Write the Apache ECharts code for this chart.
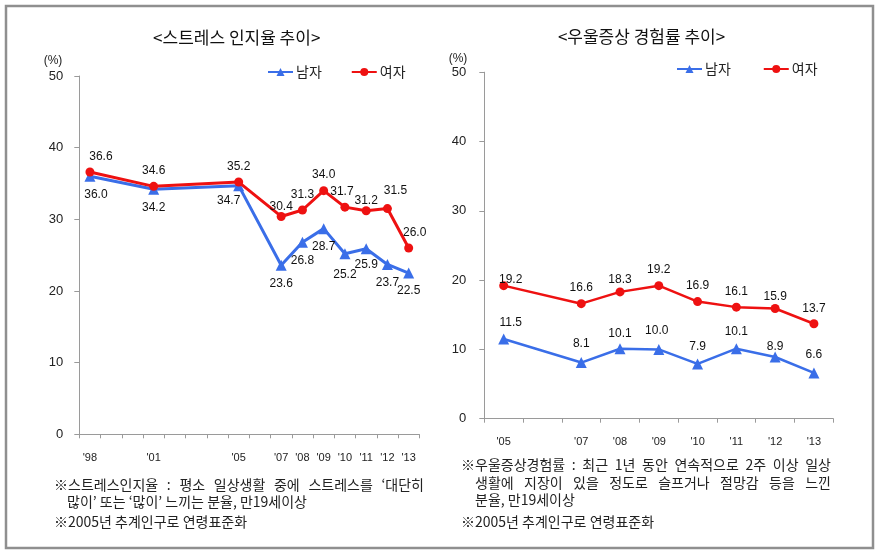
<!DOCTYPE html>
<html>
<head>
<meta charset="utf-8">
<script src="https://cdn.jsdelivr.net/npm/echarts@6/dist/echarts.min.js"></script>
<style>
html,body{margin:0;padding:0;background:#fff;}
#c{width:882px;height:557px;}
</style>
</head>
<body>
<div id="c"></div>
<script>
// ---- data ----
const stressYears = [1998, 2001, 2005, 2007, 2008, 2009, 2010, 2011, 2012, 2013];
const stressMale = [36.0, 34.2, 34.7, 23.6, 26.8, 28.7, 25.2, 25.9, 23.7, 22.5];
const stressFemale = [36.6, 34.6, 35.2, 30.4, 31.3, 34.0, 31.7, 31.2, 31.5, 26.0];
const depYears = [2005, 2007, 2008, 2009, 2010, 2011, 2012, 2013];
const depMale = [11.5, 8.1, 10.1, 10.0, 7.9, 10.1, 8.9, 6.6];
const depFemale = [19.2, 16.6, 18.3, 19.2, 16.9, 16.1, 15.9, 13.7];
const seriesNames = ['남자', '여자'];
const titles = ['<스트레스 인지율 추이>', '<우울증상 경험률 추이>'];
const yMin = 0, yMax = 50, yStep = 10;
const notesLeft = [
  '※스트레스인지율 : 평소 일상생활 중에 스트레스를 ‘대단히',
  '많이’ 또는 ‘많이’ 느끼는 분율, 만19세이상',
  '※2005년 추계인구로 연령표준화'
];
const notesRight = [
  '※우울증상경험률 : 최근 1년 동안 연속적으로 2주 이상 일상',
  '생활에 지장이 있을 정도로 슬프거나 절망감 등을 느낀',
  '분율, 만19세이상',
  '※2005년 추계인구로 연령표준화'
];

// ---- label placement (style, not data) ----
const offStressMale = [[6,0],[0,0],[-10,-3],[0,0],[0,0],[0,0],[0,2],[0,-3],[0,0],[0,-1]];
const offStressFemale = [[11,0],[0,0],[0,0],[0,6],[0,0],[0,0],[-3,0],[0,5],[8,-2],[6,0]];
const offDepMale = [[7,0],[0,-2],[0,1],[-2,-2],[0,-1],[0,-1],[0,6],[0,-2]];
const offDepFemale = [[7,10],[0,0],[0,3],[0,0],[0,0],[0,0],[0,4],[0,0]];

const BLUE = '#3a6ee8', RED = '#ee1111';
const FONT = 'Liberation Sans, Arial, sans-serif';
const KFONT = '"Noto Sans CJK KR", sans-serif';
const NOTE_FONT = '14px ' + KFONT;

function range(a, b){ const r=[]; for(let i=a;i<=b;i++) r.push(String(i)); return r; }
const stressCats = range(stressYears[0], stressYears[stressYears.length-1]);
const depCats = range(depYears[0], depYears[depYears.length-1]);

function mk(years, vals, offs){
  return years.map((y,i)=>({value:[String(y), vals[i]], label:{offset:offs[i]}}));
}
function yrFmt(set){ return v => set.has(+v) ? "'" + String(v).slice(2) : ''; }

const labelStyle = {show:true, fontSize:12, color:'#111', fontFamily:FONT, formatter: p => p.value[1].toFixed(1)};

function xAxis(idx, cats, years){
  return {
    type:'category', gridIndex:idx, data:cats, boundaryGap:true,
    axisLine:{lineStyle:{color:'#9a9a9a', width:1}},
    axisTick:{show:true, length:4, interval:0, lineStyle:{color:'#9a9a9a'}},
    axisLabel:{interval:0, formatter:yrFmt(new Set(years)), fontSize:11, color:'#222', margin:18, fontFamily:'Liberation Sans Narrow, Liberation Sans, sans-serif'},
    splitLine:{show:false}
  };
}
function yAxis(idx, margin){
  return {
    type:'value', gridIndex:idx, min:yMin, max:yMax, interval:yStep,
    axisLine:{show:true, lineStyle:{color:'#9a9a9a', width:1}},
    axisTick:{show:true, length:5, lineStyle:{color:'#9a9a9a'}},
    axisLabel:{fontSize:13, color:'#222', margin:margin, fontFamily:FONT},
    splitLine:{show:false}
  };
}

// footnote text: optionally justified to a given width
const mctx = document.createElement('canvas').getContext('2d');
function noteLine(text, x, y, width){
  mctx.font = NOTE_FONT;
  const words = text.split(' ');
  if (!width || words.length < 2) {
    return [{type:'text', x:x, y:y, style:{text:text, font:NOTE_FONT, fill:'#222', textVerticalAlign:'middle'}}];
  }
  const ws = words.map(w => mctx.measureText(w).width);
  const sum = ws.reduce((a,b)=>a+b, 0);
  const gap = (width - sum) / (words.length - 1);
  const out = [];
  let cx = x;
  words.forEach((w,i)=>{
    out.push({type:'text', x:cx, y:y, style:{text:w, font:NOTE_FONT, fill:'#222', textVerticalAlign:'middle'}});
    cx += ws[i] + gap;
  });
  return out;
}

const notes = [].concat(
  noteLine(notesLeft[0], 54, 485, 370),
  noteLine(notesLeft[1], 67, 502, 0),
  noteLine(notesLeft[2], 54, 522, 0),
  noteLine(notesRight[0], 461, 465, 370),
  noteLine(notesRight[1], 475, 483, 356),
  noteLine(notesRight[2], 475, 500, 0),
  noteLine(notesRight[3], 461, 522, 0)
);

const option = {
  animation:false,
  backgroundColor:'#fff',
  grid:[
    {left:79.3, top:76, width:340, height:358.3},
    {left:484.3, top:72.2, width:349, height:346.5}
  ],
  xAxis:[ xAxis(0, stressCats, stressYears), xAxis(1, depCats, depYears) ],
  yAxis:[ yAxis(0, 16), yAxis(1, 18) ],
  legend:[
    {data:seriesNames, left:262, top:60, itemWidth:25, itemHeight:10, itemGap:29,
     textStyle:{fontSize:14, color:'#222', fontFamily:KFONT, padding:[0,0,0,-2]}},
    {data:seriesNames, left:671, top:57, itemWidth:25, itemHeight:10, itemGap:32,
     textStyle:{fontSize:14, color:'#222', fontFamily:KFONT, padding:[0,0,0,-2]}}
  ],
  series:[
    {name:seriesNames[0], type:'line', xAxisIndex:0, yAxisIndex:0, data:mk(stressYears, stressMale, offStressMale),
     color:BLUE, symbol:'triangle', symbolSize:11, lineStyle:{width:3, color:BLUE}, itemStyle:{color:BLUE},
     label:Object.assign({}, labelStyle, {position:'bottom', distance:7}), z:3},
    {name:seriesNames[1], type:'line', xAxisIndex:0, yAxisIndex:0, data:mk(stressYears, stressFemale, offStressFemale),
     color:RED, symbol:'circle', symbolSize:9, lineStyle:{width:3, color:RED}, itemStyle:{color:RED},
     label:Object.assign({}, labelStyle, {position:'top', distance:5}), z:4},
    {name:seriesNames[0], type:'line', xAxisIndex:1, yAxisIndex:1, data:mk(depYears, depMale, offDepMale),
     color:BLUE, symbol:'triangle', symbolSize:11, lineStyle:{width:2.5, color:BLUE}, itemStyle:{color:BLUE},
     label:Object.assign({}, labelStyle, {position:'top', distance:5})},
    {name:seriesNames[1], type:'line', xAxisIndex:1, yAxisIndex:1, data:mk(depYears, depFemale, offDepFemale),
     color:RED, symbol:'circle', symbolSize:9, lineStyle:{width:2.5, color:RED}, itemStyle:{color:RED},
     label:Object.assign({}, labelStyle, {position:'top', distance:5})}
  ],
  graphic:[
    {type:'rect', shape:{x:6, y:6, width:867, height:542}, style:{fill:'none', stroke:'#8f8f8f', lineWidth:2.5}, silent:true},
    {type:'text', x:236.7, y:38, style:{text:titles[0], font:'17px '+KFONT, fill:'#111', textAlign:'center', textVerticalAlign:'middle'}},
    {type:'text', x:641.5, y:37, style:{text:titles[1], font:'17px '+KFONT, fill:'#111', textAlign:'center', textVerticalAlign:'middle'}},
    {type:'text', x:53, y:61, style:{text:'(%)', font:'12px '+FONT, fill:'#222', textAlign:'center', textVerticalAlign:'middle'}},
    {type:'text', x:458, y:59, style:{text:'(%)', font:'12px '+FONT, fill:'#222', textAlign:'center', textVerticalAlign:'middle'}}
  ].concat(notes)
};
const chart = echarts.init(document.getElementById('c'), null, {renderer:'canvas'});
chart.setOption(option);
</script>
</body>
</html>
